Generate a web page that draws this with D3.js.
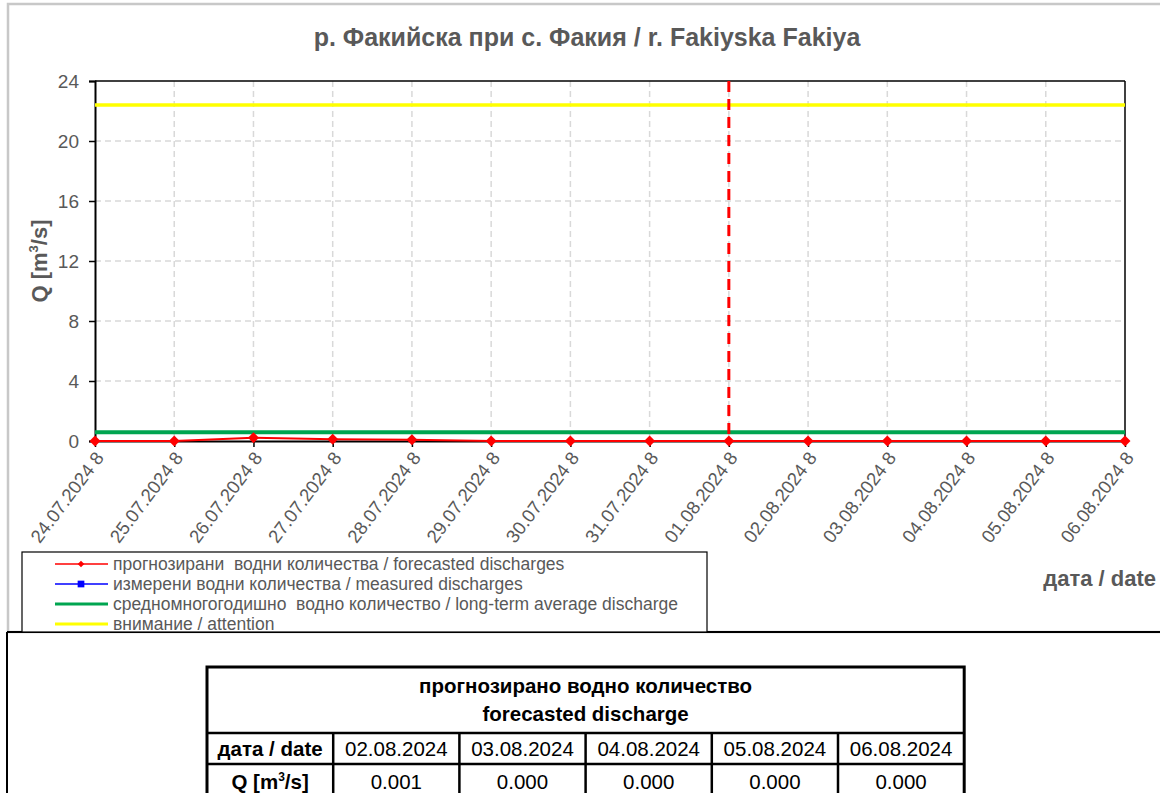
<html>
<head>
  <meta charset="utf-8">
  <title>Fakiyska Fakiya</title>
  <style>
  body {
    margin: 0;
    background: #fff;
    font-family: "Liberation Sans", Arial, sans-serif;
  }
  .grid line {
    stroke: #d9d9d9;
    stroke-width: 1.5;
    stroke-dasharray: 6,4;
  }
  .tick text {
    fill: #595959;
  }
  </style>
</head>
<body>
  <div id='chart'></div>

  <script src="https://d3js.org/d3.v7.min.js"></script>
  <script>
  // chart values
  var dates = ["24.07.2024 8", "25.07.2024 8", "26.07.2024 8", "27.07.2024 8", "28.07.2024 8",
               "29.07.2024 8", "30.07.2024 8", "31.07.2024 8", "01.08.2024 8", "02.08.2024 8",
               "03.08.2024 8", "04.08.2024 8", "05.08.2024 8", "06.08.2024 8"]
  var forecast = [0.0, 0.0, 0.22, 0.11, 0.09, 0.005, 0.003, 0.002, 0.001, 0.001, 0.0, 0.0, 0.0, 0.0]
  var measured = []
  var average = 0.58
  var attention = 22.4
  var todayLabel = "01.08.2024 8"
  var yTicks = [0, 4, 8, 12, 16, 20, 24]

  var tableDates = ["02.08.2024", "03.08.2024", "04.08.2024", "05.08.2024", "06.08.2024"]
  var tableValues = ["0.001", "0.000", "0.000", "0.000", "0.000"]

  var legendItems = [
    {label: "прогнозирани  водни количества / forecasted discharges", color: "#ff0000", marker: "diamond"},
    {label: "измерени водни количества / measured discharges", color: "#0000ff", marker: "square"},
    {label: "средномногогодишно  водно количество / long-term average discharge", color: "#00a550", marker: null},
    {label: "внимание / attention", color: "#ffff00", marker: null}
  ]

  var W = 1160, H = 793
  var plot = {left: 95, right: 1125, top: 81, bottom: 441}
  var textGray = "#595959"

  var svg = d3.select("#chart").append("svg")
    .attr("width", W)
    .attr("height", H)

  // outer frames
  svg.append("rect")
    .attr("x", 8).attr("y", 4)
    .attr("width", W).attr("height", 628)
    .attr("fill", "none")
    .attr("stroke", "#c8c8c8")
    .attr("stroke-width", 2.5)
  svg.append("line")
    .attr("x1", 7).attr("x2", W).attr("y1", 632).attr("y2", 632)
    .attr("stroke", "#000").attr("stroke-width", 2)
  svg.append("line")
    .attr("x1", 7).attr("x2", 7).attr("y1", 632).attr("y2", H)
    .attr("stroke", "#000").attr("stroke-width", 2)

  var x = d3.scalePoint().domain(dates).range([plot.left, plot.right])
  var y = d3.scaleLinear().domain([0, 24]).range([plot.bottom, plot.top])

  // title
  svg.append("text")
    .attr("x", 587).attr("y", 46)
    .attr("text-anchor", "middle")
    .attr("font-size", 25)
    .attr("font-weight", "bold")
    .attr("fill", textGray)
    .text("р. Факийска при с. Факия / r. Fakiyska Fakiya")

  // grid
  var grid = svg.append("g").attr("class", "grid")
  grid.selectAll(".gy")
    .data(yTicks.slice(1, -1))
    .enter().append("line")
      .attr("x1", plot.left).attr("x2", plot.right)
      .attr("y1", function(d) { return y(d) }).attr("y2", function(d) { return y(d) })
  grid.selectAll(".gx")
    .data(dates.slice(1, -1))
    .enter().append("line")
      .attr("x1", function(d) { return x(d) }).attr("x2", function(d) { return x(d) })
      .attr("y1", plot.top).attr("y2", plot.bottom)

  // frame of plot
  svg.append("line")
    .attr("x1", plot.left).attr("x2", plot.right).attr("y1", plot.top).attr("y2", plot.top)
    .attr("stroke", "#000").attr("stroke-width", 1.5)
  svg.append("line")
    .attr("x1", plot.right).attr("x2", plot.right).attr("y1", plot.top).attr("y2", plot.bottom)
    .attr("stroke", "#000").attr("stroke-width", 1.5)

  // y axis
  var yAxis = svg.append("g")
    .attr("transform", "translate(" + plot.left + ",0)")
    .call(d3.axisLeft(y).tickValues(yTicks).tickSize(6).tickPadding(10))
  yAxis.select(".domain").attr("stroke", "#000").attr("stroke-width", 2)
  yAxis.selectAll(".tick line").attr("stroke", "#000").attr("stroke-width", 1.5)
  yAxis.selectAll(".tick text")
    .attr("font-size", 19)
    .attr("font-family", "Liberation Sans, Arial, sans-serif")

  svg.append("text")
    .attr("transform", "translate(47," + ((plot.top + plot.bottom) / 2) + ") rotate(-90)")
    .attr("text-anchor", "middle")
    .attr("font-size", 22)
    .attr("font-weight", "bold")
    .attr("fill", textGray)
    .html("Q [m<tspan font-size='13' dy='-9'>3</tspan><tspan dy='9'>/s]</tspan>")

  // x axis
  var xAxis = svg.append("g")
    .attr("transform", "translate(0," + plot.bottom + ")")
    .call(d3.axisBottom(x).tickSize(6).tickSizeOuter(0))
  xAxis.select(".domain").attr("stroke", "#000").attr("stroke-width", 2)
  xAxis.selectAll(".tick line").attr("stroke", "#000").attr("stroke-width", 1.5)
  xAxis.selectAll(".tick text")
    .attr("font-size", 18.5)
    .attr("font-family", "Liberation Sans, Arial, sans-serif")
    .attr("text-anchor", "end")
    .attr("dy", "0.35em")
    .attr("transform", "translate(4,13) rotate(-53)")
    .attr("y", 0).attr("x", 0)

  svg.append("text")
    .attr("x", 1156).attr("y", 586)
    .attr("text-anchor", "end")
    .attr("font-size", 22)
    .attr("font-weight", "bold")
    .attr("fill", textGray)
    .text("дата / date")

  // reference lines
  svg.append("line")
    .attr("x1", plot.left).attr("x2", plot.right)
    .attr("y1", y(attention)).attr("y2", y(attention))
    .attr("stroke", "#ffff00").attr("stroke-width", 3.5)
  svg.append("line")
    .attr("x1", plot.left).attr("x2", plot.right)
    .attr("y1", y(average)).attr("y2", y(average))
    .attr("stroke", "#00a550").attr("stroke-width", 4)

  // today marker
  svg.append("line")
    .attr("x1", x(todayLabel)).attr("x2", x(todayLabel))
    .attr("y1", plot.top).attr("y2", plot.bottom)
    .attr("stroke", "#ff0000").attr("stroke-width", 3)
    .attr("stroke-dasharray", "11,7")

  // forecast series
  var line = d3.line()
    .x(function(d, i) { return x(dates[i]) })
    .y(function(d) { return y(d) })
  svg.append("path")
    .datum(forecast)
    .attr("fill", "none")
    .attr("stroke", "#ff0000")
    .attr("stroke-width", 2)
    .attr("d", line)
  svg.selectAll(".fc")
    .data(forecast)
    .enter().append("path")
      .attr("d", d3.symbol().type(d3.symbolSquare).size(60))
      .attr("transform", function(d, i) { return "translate(" + x(dates[i]) + "," + y(d) + ") rotate(45)" })
      .attr("fill", "#ff0000")

  // measured series (no data in this period)
  svg.append("path")
    .datum(measured)
    .attr("fill", "none")
    .attr("stroke", "#0000ff")
    .attr("stroke-width", 2)
    .attr("d", line)

  // legend
  var lg = svg.append("g")
  lg.append("rect")
    .attr("x", 22).attr("y", 552)
    .attr("width", 685).attr("height", 80)
    .attr("fill", "#fff")
    .attr("stroke", "#000")
    .attr("stroke-width", 1.2)
  var rows = lg.selectAll(".lrow")
    .data(legendItems)
    .enter().append("g")
      .attr("transform", function(d, i) { return "translate(0," + (564 + i * 20) + ")" })
  rows.append("line")
    .attr("x1", 55).attr("x2", 108)
    .attr("stroke", function(d) { return d.color })
    .attr("stroke-width", function(d) { return d.marker ? 1.5 : 3 })
  rows.filter(function(d) { return d.marker == "diamond" }).append("path")
    .attr("d", d3.symbol().type(d3.symbolSquare).size(22))
    .attr("transform", "translate(81,0) rotate(45)")
    .attr("fill", function(d) { return d.color })
  rows.filter(function(d) { return d.marker == "square" }).append("path")
    .attr("d", d3.symbol().type(d3.symbolSquare).size(45))
    .attr("transform", "translate(81,0)")
    .attr("fill", function(d) { return d.color })
  rows.append("text")
    .attr("x", 113).attr("dy", "0.35em")
    .attr("font-size", 17.5)
    .attr("fill", textGray)
    .style("white-space", "pre")
    .text(function(d) { return d.label })

  // forecast table
  var tb = {left: 207, top: 667, colW: 126.2, head: 66, row: 31}
  var tg = svg.append("g")
  var nCols = tableDates.length + 1
  var tRight = tb.left + tb.colW * nCols
  var tBottom = tb.top + tb.head + tb.row * 2
  var tFont = 20.5
  tg.append("rect")
    .attr("x", tb.left).attr("y", tb.top)
    .attr("width", tRight - tb.left).attr("height", tBottom - tb.top)
    .attr("fill", "#fff").attr("stroke", "#000").attr("stroke-width", 3)
  tg.append("line")
    .attr("x1", tb.left).attr("x2", tRight)
    .attr("y1", tb.top + tb.head).attr("y2", tb.top + tb.head)
    .attr("stroke", "#000").attr("stroke-width", 2.5)
  tg.append("line")
    .attr("x1", tb.left).attr("x2", tRight)
    .attr("y1", tb.top + tb.head + tb.row).attr("y2", tb.top + tb.head + tb.row)
    .attr("stroke", "#000").attr("stroke-width", 2.5)
  tg.selectAll(".vcol")
    .data(d3.range(1, nCols))
    .enter().append("line")
      .attr("x1", function(d) { return tb.left + d * tb.colW })
      .attr("x2", function(d) { return tb.left + d * tb.colW })
      .attr("y1", tb.top + tb.head).attr("y2", tBottom)
      .attr("stroke", "#000").attr("stroke-width", 2.5)

  var tMid = (tb.left + tRight) / 2
  tg.append("text")
    .attr("x", tMid).attr("y", tb.top + 26)
    .attr("text-anchor", "middle").attr("font-size", tFont).attr("font-weight", "bold")
    .text("прогнозирано водно количество")
  tg.append("text")
    .attr("x", tMid).attr("y", tb.top + 54)
    .attr("text-anchor", "middle").attr("font-size", tFont).attr("font-weight", "bold")
    .text("forecasted discharge")

  var r1 = tb.top + tb.head + tb.row / 2
  var r2 = r1 + tb.row + 2
  tg.append("text")
    .attr("x", tb.left + tb.colW / 2).attr("y", r1).attr("dy", "0.35em")
    .attr("text-anchor", "middle").attr("font-size", tFont).attr("font-weight", "bold")
    .text("дата / date")
  tg.append("text")
    .attr("x", tb.left + tb.colW / 2).attr("y", r2).attr("dy", "0.35em")
    .attr("text-anchor", "middle").attr("font-size", tFont).attr("font-weight", "bold")
    .html("Q [m<tspan font-size='12' dy='-8'>3</tspan><tspan dy='8'>/s]</tspan>")
  tg.selectAll(".td")
    .data(tableDates)
    .enter().append("text")
      .attr("x", function(d, i) { return tb.left + (i + 1.5) * tb.colW })
      .attr("y", r1).attr("dy", "0.35em")
      .attr("text-anchor", "middle").attr("font-size", tFont)
      .text(function(d) { return d })
  tg.selectAll(".tv")
    .data(tableValues)
    .enter().append("text")
      .attr("x", function(d, i) { return tb.left + (i + 1.5) * tb.colW })
      .attr("y", r2).attr("dy", "0.35em")
      .attr("text-anchor", "middle").attr("font-size", tFont)
      .text(function(d) { return d })
  </script>
</body>
</html>
